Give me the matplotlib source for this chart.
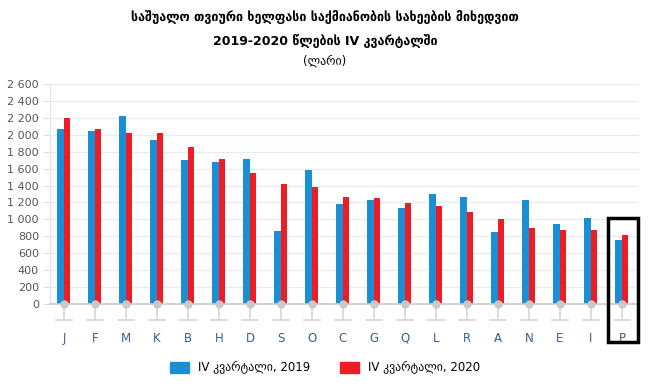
import numpy as np
import matplotlib.pyplot as plt
from matplotlib.patches import Patch, Rectangle

# Average monthly wage by activity, Q4 2019 vs Q4 2020 (GEL)
categories = ['J', 'F', 'M', 'K', 'B', 'H', 'D', 'S', 'O', 'C',
              'G', 'Q', 'L', 'R', 'A', 'N', 'E', 'I', 'P']
q4_2019 = [2072, 2041, 2222, 1938, 1698, 1674, 1710, 867, 1584, 1178,
           1225, 1131, 1304, 1269, 847, 1229, 942, 1017, 753]
q4_2020 = [2202, 2064, 2025, 2021, 1856, 1710, 1548, 1418, 1387, 1265,
           1249, 1190, 1162, 1084, 1001, 894, 871, 871, 812]
yticks = list(range(0, 2601, 200))

title = ('საშუალო თვიური ხელფასი საქმიანობის სახეების მიხედვით\n'
         '2019-2020 წლების IV კვარტალში')
unit = '(ლარი)'
labels = ['IV კვარტალი, 2019', 'IV კვარტალი, 2020']

blue = '#1b8fd4'
red = '#ee1d25'
grey = '#c9c9c9'

W, H = 650, 388
fig = plt.figure(figsize=(W / 100, H / 100), dpi=100)
ax = fig.add_axes([50 / W, 84 / H, (639 - 50) / W, (304 - 84) / H])

x = np.arange(len(categories))
bw = 0.21
ax.bar(x - bw / 2, q4_2019, bw, color=blue, zorder=2)
ax.bar(x + bw / 2, q4_2020, bw, color=red, zorder=2)

ax.set_xlim(-0.45, len(categories) - 1 + 0.55)
ax.set_ylim(0, 2600)
ax.set_yticks(yticks)
ax.set_yticklabels([f'{v:,}'.replace(',', ' ') for v in yticks],
                   fontsize=8, color='#555555')
ax.tick_params(axis='y', length=5, color='#dddddd', pad=3)
ax.yaxis.grid(True, color='#ebebeb', lw=1, zorder=0)
ax.set_axisbelow(True)

for s in ['top', 'right']:
    ax.spines[s].set_visible(False)
ax.spines['left'].set_color('#e3e3e3')
ax.spines['bottom'].set_color(grey)
ax.spines['bottom'].set_linewidth(1.2)

# stems, dots and short ticks under each category
per_px = 2600 / 220
stem = -16 * per_px
for xi in x:
    ax.plot([xi, xi], [0, stem], color='#d6d6d6', lw=1.2, clip_on=False, zorder=1)
    ax.plot([xi - 0.26, xi + 0.26], [stem, stem], color='#d6d6d6', lw=1.2,
            clip_on=False, zorder=1)
ax.plot(x, np.zeros(len(x)), 'o', color=grey, ms=5, clip_on=False, zorder=3)

ax.set_xticks(x)
ax.set_xticklabels(categories, fontsize=8.5, color='#3a5f94')
ax.tick_params(axis='x', length=0, pad=20)

# highlight frame around the last category
fig.add_artist(Rectangle((608 / W, 1 - 342 / H), 30 / W, 124 / H,
                         transform=fig.transFigure, fill=False,
                         edgecolor='black', lw=2.5))

fig.text(0.5, 1 - 29 / H, title, ha='center', va='center', fontsize=9,
         fontweight='bold', linespacing=1.85)
fig.text(0.5, 1 - 61 / H, unit, ha='center', va='center', fontsize=8.5)

handles = [Patch(color=blue), Patch(color=red)]
fig.legend(handles, labels, loc='center', bbox_to_anchor=(0.5, 1 - 368 / H),
           ncol=2, frameon=False, fontsize=8.5, handlelength=1.6,
           handleheight=1.0, columnspacing=2.5, handletextpad=0.8)

fig.savefig('out.png', dpi=100)
